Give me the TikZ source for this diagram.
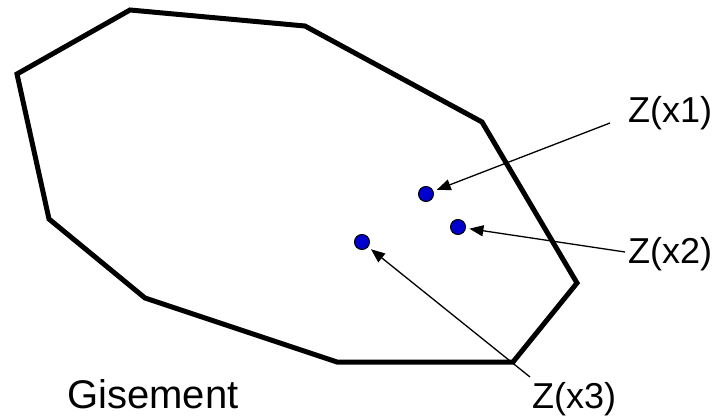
\documentclass[tikz,border=0pt]{standalone}
\usepackage{fontspec}
\setmainfont{Liberation Sans}
\usetikzlibrary{arrows.meta,positioning}
\definecolor{ptblue}{RGB}{0,0,204}

\begin{document}
\begin{tikzpicture}[x=1pt, y=-1pt, >={Triangle[length=14pt,width=11pt]},
  zone/.style={line width=5pt, line join=miter},
  sample/.style={circle, draw=black, line width=1pt, fill=ptblue, minimum size=15pt, inner sep=0pt},
  lbl/.style={anchor=base west, inner sep=0pt, font=\fontsize{36}{40}\selectfont},
  pointer/.style={->, line width=1.3pt, shorten >=3.5pt}]
\useasboundingbox (0,0) rectangle (720,417);
% gisement outline
\draw[zone] (130,10) -- (305,26) -- (482,122) -- (577,283) -- (513,362)
  -- (337,362) -- (145,298) -- (49,219) -- (17,74) -- cycle;
\node[anchor=base west, inner sep=0pt, font=\fontsize{40}{44}\selectfont] (gis) at (67,408) {Gisement};
% samples
\node[sample] (p1) at (426,194) {};
\node[sample] (p2) at (458,227) {};
\node[sample] (p3) at (362,242) {};
\node[lbl] (z1) at (628,123) {Z(x1)};
\node[lbl] (z2) at (628,263) {Z(x2)};
\node[lbl] (z3) at (532,408) {Z(x3)};
\draw[pointer] ([xshift=-18pt]z1.base west) -- (p1);
\draw[pointer] ([shift={(-3pt,11pt)}]z2.base west) -- (p2);
\draw[pointer] ([shift={(-2pt,31pt)}]z3.base west) -- (p3);
\end{tikzpicture}
\end{document}
